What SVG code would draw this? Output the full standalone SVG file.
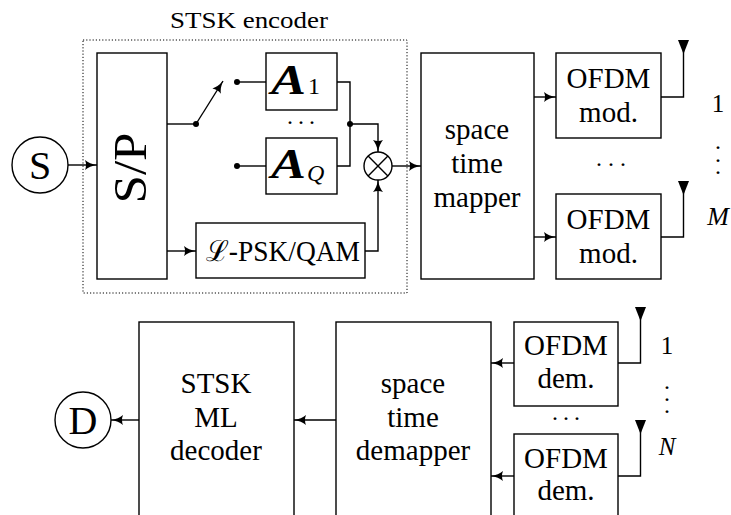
<svg xmlns="http://www.w3.org/2000/svg" width="731" height="515" viewBox="0 0 731 515">
<style>
  .box{fill:none;stroke:#000;stroke-width:1.4}
  .ln{fill:none;stroke:#000;stroke-width:1.4}
  .arr{fill:none;stroke:#000;stroke-width:1.4;marker-end:url(#ah)}
  .t{font-family:"Liberation Serif","DejaVu Serif",serif;fill:#000;text-anchor:middle}
  .tl{font-family:"Liberation Serif","DejaVu Serif",serif;fill:#000}
  .lbl{font-size:29px}
  .dot{fill:#000}
  .ant{fill:#000;stroke:none}
</style>
<defs>
  <marker id="ah" markerUnits="userSpaceOnUse" markerWidth="14" markerHeight="12" refX="12" refY="5.5" orient="auto" viewBox="0 0 14 12">
    <path d="M0,0.5 Q4.5,4.3 12,5.5 Q4.5,6.7 0,10.5 Q2,5.5 0,0.5 Z" fill="#000"/>
  </marker>
</defs>

<g id="encoder-frame">
  <rect x="83" y="40" width="324" height="253" fill="none" stroke="#000" stroke-width="1" stroke-dasharray="1.2,2"/>
  <text class="t" x="249" y="28" font-size="23" textLength="158" lengthAdjust="spacingAndGlyphs">STSK encoder</text>
</g>

<g id="source">
  <circle cx="40" cy="165" r="28" class="box"/>
  <text class="t" x="40" y="179" font-size="40">S</text>
</g>

<g id="sp">
  <rect x="97" y="53" width="70" height="226" class="box"/>
  <text class="t" transform="translate(146,168) rotate(-90)" font-size="47" textLength="71" lengthAdjust="spacingAndGlyphs">S/P</text>
</g>

<g id="A1">
  <rect x="266" y="53" width="71" height="57" class="box"/>
  <text class="tl" x="271" y="94"><tspan font-size="42" font-weight="bold" font-style="italic" textLength="35" lengthAdjust="spacingAndGlyphs">A</tspan><tspan x="308" y="94" font-size="24">1</tspan></text>
</g>

<g id="AQ">
  <rect x="266" y="138" width="71" height="56" class="box"/>
  <text class="tl" x="271" y="178"><tspan font-size="42" font-weight="bold" font-style="italic" textLength="35" lengthAdjust="spacingAndGlyphs">A</tspan><tspan x="307" y="181" font-size="24" font-style="italic">Q</tspan></text>
</g>

<g id="dots-A">
  <text class="t" font-size="24" x="290 301 312" y="124.3">...</text>
</g>

<g id="multiplier">
  <circle cx="378" cy="166" r="14" class="box"/>
  <path d="M368.1,156.1 L387.9,175.9 M387.9,156.1 L368.1,175.9" class="ln"/>
</g>

<g id="psk">
  <rect x="196" y="223" width="169" height="55" class="box"/>
  <text class="t lbl" x="283" y="261" textLength="154" lengthAdjust="spacingAndGlyphs">ℒ-PSK/QAM</text>
</g>

<g id="mapper">
  <rect x="421" y="53" width="113" height="226" class="box"/>
  <text class="t lbl" x="477" y="139">space</text>
  <text class="t lbl" x="477" y="173">time</text>
  <text class="t lbl" x="477" y="207">mapper</text>
</g>

<g id="ofdm-mod-1">
  <rect x="556" y="53" width="105" height="85" class="box"/>
  <text class="t lbl" x="608.5" y="88">OFDM</text>
  <text class="t lbl" x="608.5" y="122">mod.</text>
</g>

<g id="ofdm-mod-M">
  <rect x="556" y="194" width="105" height="85" class="box"/>
  <text class="t lbl" x="608.5" y="229">OFDM</text>
  <text class="t lbl" x="608.5" y="263">mod.</text>
</g>

<g id="tx-antennas">
  <polygon class="ant" points="678,40 689,40 683.5,54"/>
  <polygon class="ant" points="678,181 689,181 683.5,195"/>
  <text class="t" font-size="25" x="718" y="112">1</text>
  <text class="t" font-size="24" x="718 718 718" y="149.3 162.3 174.3">...</text>
  <text class="t" font-size="26" font-style="italic" x="718" y="225">M</text>
  <text class="t" font-size="24" x="599 611 623" y="166.3">...</text>
</g>

<g id="decoder">
  <rect x="139" y="322" width="155" height="210" class="box"/>
  <text class="t lbl" x="216" y="393">STSK</text>
  <text class="t lbl" x="216" y="427">ML</text>
  <text class="t lbl" x="216" y="460">decoder</text>
</g>

<g id="sink">
  <circle cx="83" cy="420" r="28" class="box"/>
  <text class="t" x="83" y="434" font-size="40">D</text>
</g>

<g id="demapper">
  <rect x="336" y="322" width="155" height="210" class="box"/>
  <text class="t lbl" x="413" y="393">space</text>
  <text class="t lbl" x="413" y="427">time</text>
  <text class="t lbl" x="413" y="460">demapper</text>
</g>

<g id="ofdm-dem-1">
  <rect x="514" y="322" width="104" height="84" class="box"/>
  <text class="t lbl" x="566" y="355">OFDM</text>
  <text class="t lbl" x="566" y="388">dem.</text>
</g>

<g id="ofdm-dem-N">
  <rect x="514" y="434" width="104" height="98" class="box"/>
  <text class="t lbl" x="566" y="468">OFDM</text>
  <text class="t lbl" x="566" y="500">dem.</text>
</g>

<g id="rx-antennas">
  <polygon class="ant" points="635,307 646,307 640.5,321"/>
  <polygon class="ant" points="635,420 646,420 640.5,434"/>
  <text class="t" font-size="25" x="667" y="354">1</text>
  <text class="t" font-size="24" x="667 667 667" y="389.3 401.3 413.3">...</text>
  <text class="t" font-size="25" font-style="italic" x="667" y="455">N</text>
  <text class="t" font-size="24" x="555 566 577" y="420.3">...</text>
</g>

<g id="connectors">
  <line x1="68" y1="165" x2="97" y2="165" class="arr"/>
  <polyline points="167,124 196,124" class="ln"/>
  <line x1="196" y1="124" x2="223" y2="81" class="arr"/>
  <circle cx="196" cy="124" r="3" class="dot"/>
  <line x1="237" y1="82" x2="266" y2="82" class="ln"/>
  <circle cx="237" cy="82" r="3" class="dot"/>
  <line x1="237" y1="166" x2="266" y2="166" class="ln"/>
  <circle cx="237" cy="166" r="3" class="dot"/>
  <polyline points="337,82 350,82 350,166 337,166" class="ln"/>
  <circle cx="350" cy="124" r="3" class="dot"/>
  <polyline points="350,124 378,124 378,152" class="arr"/>
  <line x1="167" y1="251" x2="196" y2="251" class="arr"/>
  <polyline points="365,251 378,251 378,180" class="arr"/>
  <line x1="392" y1="166" x2="421" y2="166" class="arr"/>
  <line x1="534" y1="97" x2="556" y2="97" class="arr"/>
  <line x1="534" y1="237" x2="556" y2="237" class="arr"/>
  <polyline points="661,97 683.5,97 683.5,42" class="ln"/>
  <polyline points="661,237 683.5,237 683.5,183" class="ln"/>
  <polyline points="618,363 640.5,363 640.5,309" class="ln"/>
  <polyline points="618,476 640.5,476 640.5,422" class="ln"/>
  <line x1="514" y1="363" x2="491" y2="363" class="arr"/>
  <line x1="514" y1="476" x2="491" y2="476" class="arr"/>
  <line x1="336" y1="420" x2="294" y2="420" class="arr"/>
  <line x1="139" y1="420" x2="111" y2="420" class="arr"/>
</g>
</svg>
